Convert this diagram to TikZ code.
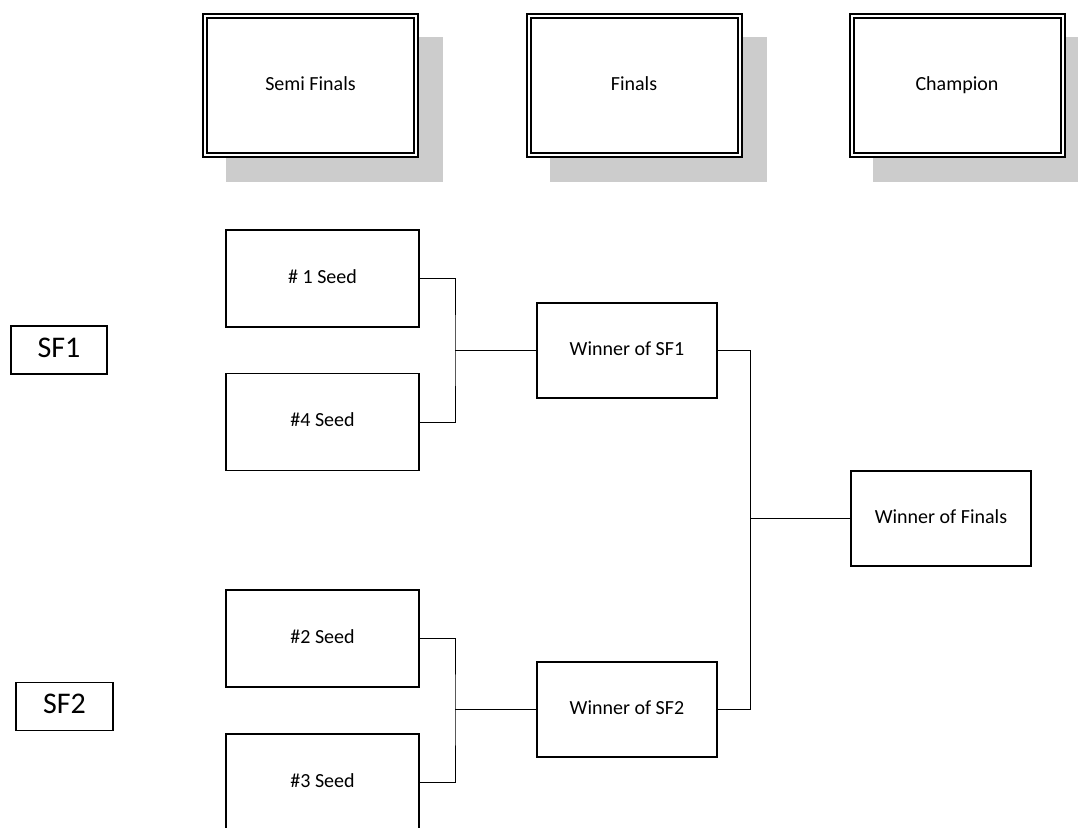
\documentclass[tikz,border=0pt]{standalone}
\usepackage{fontspec}
\setmainfont{Carlito}
\usetikzlibrary{positioning}
\definecolor{shadowgray}{HTML}{CCCCCC}

\begin{document}
\begin{tikzpicture}[x=1pt,y=-1pt,
    hdrbox/.style={draw,line width=2pt,double,double distance=2pt,fill=white,
      minimum width=211pt,minimum height=139pt,inner sep=0pt,text height=13pt,text depth=4pt,
      font=\fontsize{20}{24}\selectfont},
    seedbox/.style={draw,line width=1.3pt,fill=white,minimum width=193pt,minimum height=97pt,
      inner sep=0pt,text height=13pt,text depth=4pt,font=\fontsize{20}{24}\selectfont},
    winbox/.style={seedbox,minimum width=180pt,minimum height=95pt},
    sfbox/.style={draw,line width=1.3pt,minimum width=96pt,minimum height=48pt,
      inner sep=0pt,text height=20pt,text depth=6pt,font=\fontsize{30}{36}\selectfont},
    link/.style={line width=1pt}]
  \useasboundingbox (0,0) rectangle (1078,827);
  \clip (0,0) rectangle (1078,827);
  % header boxes with their shadows
  \foreach \hx/\hname/\htext in {310.5/semi/Semi Finals,634/fin/Finals,957/champ/Champion}{
    \fill[shadowgray] (\hx-108.5+24,13+24) rectangle (\hx+108.5+24,158+24);
    \node[hdrbox] (\hname) at (\hx,85.5) {\htext};
  }
  % semi finals
  \node[seedbox] (s1) at (322.5,278.5) {\# 1 Seed};
  \node[seedbox] (s4) at (322.5,422) {\#4 Seed};
  \node[seedbox] (s2) at (322.5,638.5) {\#2 Seed};
  \node[seedbox] (s3) at (322.5,782.5) {\#3 Seed};
  \node[sfbox] (sf1) at (59,350) {SF1};
  \node[sfbox,minimum width=97pt] (sf2) at (64.5,706.5) {SF2};
  % finals and champion
  \node[winbox] (w1) at (627,350.5) {Winner of SF1};
  \node[winbox] (w2) at (627,709.5) {Winner of SF2};
  \node[winbox] (wf) at (941,518.5) {Winner of Finals};
  % bracket lines
  \coordinate (j1) at (455,350.5);
  \coordinate (j2) at (455,709.5);
  \coordinate (jf) at (750,518.5);
  \draw[link] (s1.east) -| (j1) |- (s4.east);
  \draw[link] (j1) -- (w1.west);
  \draw[link] (s2.east) -| (j2) |- (s3.east);
  \draw[link] (j2) -- (w2.west);
  \draw[link] (w1.east) -| (jf) |- (w2.east);
  \draw[link] (jf) -- (wf.west);
\end{tikzpicture}
\end{document}
